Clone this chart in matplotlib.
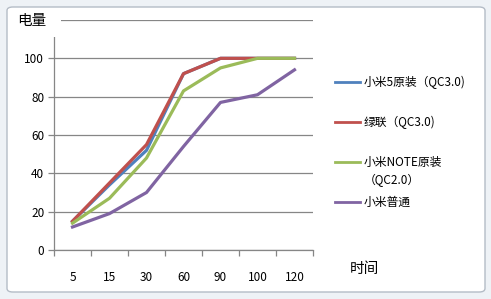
import matplotlib
matplotlib.use('Agg')

import numpy as np
import matplotlib.pyplot as plt
from matplotlib.lines import Line2D
from matplotlib.patches import FancyBboxPatch, Rectangle

plt.rcParams['font.family'] = ['Noto Sans CJK SC', 'DejaVu Sans']

# data
categories = ['5', '15', '30', '60', '90', '100', '120']
xiaomi5 = [15, 34, 52, 92, 100, 100, 100]
lvlian = [15, 35, 55, 92, 100, 100, 100]
xiaomi_note = [14, 27, 48, 83, 95, 100, 100]
xiaomi_plain = [12, 19, 30, 54, 77, 81, 94]

names = ['小米5原装（QC3.0)', '绿联（QC3.0)', '小米NOTE原装\n（QC2.0）', '小米普通']
colors = ['#4F81BD', '#C0504D', '#9BBB59', '#8064A2']

fig = plt.figure(figsize=(4.91, 2.99), dpi=100)
fig.patch.set_facecolor('#eef2f6')

# chart area frame (Excel style)
frame = FancyBboxPatch((7 / 491, 7 / 299), 478 / 491, 285 / 299,
                       boxstyle='round,pad=0,rounding_size=0.012',
                       transform=fig.transFigure, facecolor='white',
                       edgecolor='#b4bcc6', linewidth=1.0, zorder=-1)
fig.patches.append(frame)

ax = fig.add_axes([54 / 491, 1 - 250 / 299, 259 / 491, 230 / 299])
ax.set_facecolor('none')

ind = np.arange(len(categories))
series = [xiaomi5, lvlian, xiaomi_note, xiaomi_plain]
# red sits on top of blue like in the original
order = [0, 2, 3, 1]
for k in order:
    ax.plot(ind, series[k], color=colors[k], linewidth=2.3,
            solid_joinstyle='round', zorder=3 + k)

ax.set_xlim(-0.5, len(categories) - 0.5)
ax.set_ylim(0, 120)
ax.set_yticks([0, 20, 40, 60, 80, 100, 120])
ax.set_yticklabels(['0', '20', '40', '60', '80', '100', ''])
ax.yaxis.grid(True, color='#868686', linewidth=0.9)
ax.set_axisbelow(True)

ax.set_xticks(ind)
ax.set_xticklabels(categories)
ax.set_xticks(np.arange(len(categories) + 1) - 0.5, minor=True)
ax.tick_params(axis='x', which='major', length=0, pad=15, labelsize=8.5)
ax.tick_params(axis='x', which='minor', length=4, color='#868686', width=0.9)
ax.tick_params(axis='y', length=4, color='#868686', width=0.9, labelsize=8.5, pad=3)

for s in ['top', 'right']:
    ax.spines[s].set_visible(False)
for s in ['left', 'bottom']:
    ax.spines[s].set_color('#868686')
    ax.spines[s].set_linewidth(0.9)

# axis title box over the top-left corner
fig.patches.append(Rectangle((8 / 491, 1 - 37 / 299), 53 / 491, 28 / 299,
                             transform=fig.transFigure, facecolor='white',
                             edgecolor='none', zorder=5))
fig.text(32 / 491, 1 - 21 / 299, '电量', fontsize=10.5, ha='center', va='center', zorder=6)
fig.text(364 / 491, 1 - 269 / 299, '时间', fontsize=10.5, ha='center', va='center')

# legend
leg_y = [82, 122, 162, 202]
for name, c, y in zip(names, colors, leg_y):
    fig.lines.append(Line2D([335 / 491, 360 / 491], [1 - y / 299, 1 - y / 299],
                            transform=fig.transFigure, color=c, linewidth=2.0))
    for j, part in enumerate(name.split('\n')):
        fig.text(364 / 491, 1 - (y + 18 * j) / 299, part, fontsize=8.5,
                 ha='left', va='center')

plt.savefig('out.png', dpi=100)
